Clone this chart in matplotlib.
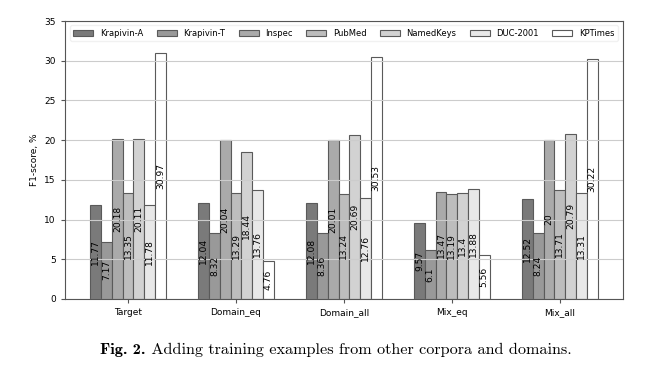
import numpy as np
import matplotlib.pyplot as plt

groups = ['Target', 'Domain_eq', 'Domain_all', 'Mix_eq', 'Mix_all']
series = ['Krapivin-A', 'Krapivin-T', 'Inspec', 'PubMed', 'NamedKeys', 'DUC-2001', 'KPTimes']

krapivin_a = [11.77, 12.04, 12.08, 9.57, 12.52]
krapivin_t = [7.17, 8.32, 8.36, 6.1, 8.24]
inspec = [20.18, 20.04, 20.01, 13.47, 20]
pubmed = [13.35, 13.29, 13.24, 13.19, 13.71]
namedkeys = [20.11, 18.44, 20.69, 13.4, 20.79]
duc2001 = [11.78, 13.76, 12.76, 13.88, 13.31]
kptimes = [30.97, 4.76, 30.53, 5.56, 30.22]

values = [krapivin_a, krapivin_t, inspec, pubmed, namedkeys, duc2001, kptimes]
colors = ['#7a7a7a', '#999999', '#aaaaaa', '#bdbdbd', '#d2d2d2', '#e8e8e8', '#ffffff']

fig = plt.figure(figsize=(6.51, 3.69), dpi=100)
ax = fig.add_axes([0.0998, 0.19, 0.857, 0.753])

x = np.arange(len(groups))
w = 0.1
for i, (name, vals) in enumerate(zip(series, values)):
    bars = ax.bar(x + (i - 3) * w, vals, w, color=colors[i], edgecolor='#5a5a5a',
                  linewidth=0.8, label=name)
    ax.bar_label(bars, labels=[f'{v:g}' for v in vals], label_type='center',
                 rotation=90, fontsize=6.6)

ax.set_ylim(0, 35)
ax.set_yticks(range(0, 36, 5))
ax.set_xticks(x)
ax.set_xticklabels(groups)
ax.tick_params(labelsize=6.5, length=3, color='#555555')
ax.set_ylabel('F1-score, %', fontsize=6.5)
ax.grid(axis='y', color='#cccccc', linewidth=0.8)
for s in ax.spines.values():
    s.set_color('#555555')

ax.legend(loc='upper center', ncol=7, fontsize=6.0, frameon=True, framealpha=0.8,
          edgecolor='#eeeeee', handlelength=2.4, columnspacing=1.6,
          borderaxespad=0.5)

# caption: bold part + regular part
t1 = fig.text(0.154, 0.04, 'Fig. 2.', ha='left', fontsize=11.7, family='cmb10')
fig.canvas.draw()
ax.annotate(' Adding training examples from other corpora and domains.',
            xy=(1, 0), xycoords=t1, ha='left', va='bottom',
            fontsize=11.7, family='cmr10', annotation_clip=False)

fig.savefig('out.png', dpi=100)
